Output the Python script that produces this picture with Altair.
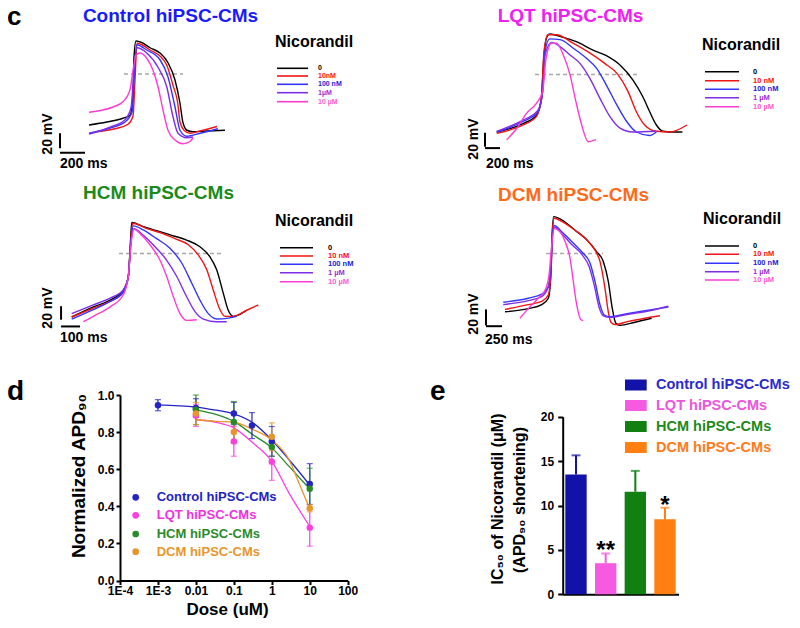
import altair as alt
import pandas as pd

FONT = "Liberation Sans"
W, H = 784, 612
M = 8  # page margin, positions below are read in page pixels

# ---------------- panel c: action potential traces (time ms, membrane potential mV)
CONCS = ["0", "10 nM", "100 nM", "1 µM", "10 µM"]
TRACE_COLORS = ["#000000", "#f01414", "#3434ff", "#7d2ee8", "#ff3ccf"]
LABEL_COLORS = ["#000000", "#ff1010", "#1c1cd8", "#9a2fd6", "#ff5bd0"]

CTRL = {
    "0": ([0, 142, 272, 328, 352, 360, 376, 422, 488, 568, 632, 688, 728, 752, 784, 832, 944, 1088],
          [-75, -71, -66, -62, -38, 16, 37, 35, 28, 21, 8, -15, -46, -72, -82, -84, -83, -82]),
    "10 nM": ([64, 208, 312, 352, 368, 384, 424, 488, 568, 624, 672, 710, 728, 760, 808, 888, 1024],
              [-84, -80, -74, -63, -15, 34, 32, 25, 17, 4, -22, -46, -71, -82, -86, -83, -77]),
    "100 nM": ([0, 168, 288, 344, 360, 382, 462, 568, 632, 688, 728, 782, 888, 1032],
               [-86, -79, -71, -58, -15, 32, 25, 12, -11, -51, -82, -90, -86, -80]),
    "1 µM": ([0, 168, 288, 336, 360, 382, 462, 552, 622, 672, 712, 782, 832],
             [-87, -78, -68, -52, -2, 28, 21, 2, -24, -64, -86, -92, -91]),
    "10 µM": ([0, 192, 272, 328, 352, 376, 408, 462, 512, 552, 592, 632, 688, 752, 808, 832],
              [-58, -51, -44, -28, -2, 18, 21, 14, -2, -24, -55, -82, -95, -100, -97, -92]),
}
LQT = {
    "0": ([0, 350, 530, 595, 627, 670, 707, 862, 1062, 1284, 1462, 1640, 1817, 1950, 2040, 2129, 2217, 2329, 2476],
          [-80, -68, -56, -32, 25, 56, 60, 56, 49, 37, 29, 16, -6, -30, -51, -70, -79, -80, -80]),
    "10 nM": ([0, 351, 529, 596, 631, 684, 796, 1017, 1240, 1440, 1617, 1750, 1862, 1973, 2129, 2306, 2537],
              [-82, -70, -58, -32, 35, 59, 59, 47, 33, 18, 2, -22, -51, -70, -79, -80, -70]),
    "100 nM": ([0, 351, 551, 613, 644, 707, 844, 1017, 1200, 1333, 1462, 1600, 1733, 1862, 2040, 2129],
               [-80, -65, -51, -22, 35, 53, 52, 40, 25, 11, -13, -41, -65, -80, -85, -80]),
    "1 µM": ([0, 351, 551, 613, 644, 733, 844, 977, 1110, 1240, 1377, 1510, 1640, 1817, 2129],
             [-79, -63, -49, -22, 30, 48, 42, 30, 18, -3, -32, -58, -74, -80, -79]),
    "10 µM": ([133, 267, 400, 529, 613, 657, 733, 796, 888, 977, 1057, 1133, 1221, 1324],
              [-91, -75, -53, -39, -22, 25, 47, 47, 30, 2, -37, -70, -94, -91]),
}
HCM = {
    "0": ([0, 114, 202, 272, 298, 307, 316, 377, 447, 526, 605, 675, 728, 763, 798, 824, 851, 886, 921],
          [-80, -65, -55, -40, -20, 19, 60, 54, 48, 41, 34, 24, 9, -10, -45, -70, -79, -76, -70]),
    "10 nM": ([0, 114, 202, 272, 298, 311, 321, 395, 465, 544, 614, 666, 711, 745, 777, 807, 851, 921, 982],
              [-80, -67, -57, -43, -20, 34, 59, 51, 45, 36, 27, 12, -10, -40, -67, -79, -79, -70, -62]),
    "100 nM": ([0, 114, 202, 272, 298, 311, 324, 377, 447, 517, 579, 632, 675, 719, 763, 816, 868],
               [-83, -69, -57, -43, -20, 29, 55, 49, 36, 22, 0, -30, -55, -75, -83, -82, -79]),
    "1 µM": ([0, 114, 202, 272, 298, 311, 328, 377, 429, 500, 553, 605, 649, 693, 763, 816],
             [-75, -62, -52, -40, -20, 29, 51, 41, 27, 4, -20, -50, -72, -83, -87, -87]),
    "10 µM": ([61, 114, 202, 272, 298, 311, 328, 368, 412, 465, 500, 535, 570, 605, 658],
              [-87, -79, -65, -47, -20, 24, 50, 41, 27, 4, -20, -50, -75, -85, -84]),
}
DCM = {
    "0": ([0, 364, 573, 677, 719, 739, 761, 886, 1094, 1277, 1433, 1536, 1614, 1677, 1730, 1797, 2031, 2292],
          [-81, -77, -72, -64, -31, 19, 38, 34, 21, 9, -6, -18, -43, -77, -95, -98, -94, -89]),
    "10 nM": ([0, 364, 573, 677, 719, 739, 770, 886, 1094, 1277, 1406, 1484, 1563, 1614, 1656, 1719, 1927, 2188, 2422],
              [-78, -72, -68, -60, -31, 19, 36, 32, 21, 9, -4, -18, -52, -81, -94, -97, -93, -89, -86]),
    "100 nM": ([-27, 364, 573, 677, 719, 739, 770, 886, 1042, 1198, 1328, 1406, 1484, 1552, 1641, 1927, 2239, 2552],
               [-69, -64, -59, -50, -22, 15, 27, 19, 7, -6, -20, -43, -72, -85, -87, -83, -79, -75]),
    "1 µM": ([-27, 364, 573, 667, 719, 739, 770, 886, 1042, 1198, 1317, 1395, 1469, 1536, 1641, 1927, 2239, 2552],
             [-72, -67, -62, -52, -22, 13, 25, 17, 3, -9, -25, -48, -75, -86, -88, -84, -80, -74]),
    "10 µM": ([234, 364, 520, 625, 688, 730, 770, 859, 938, 1016, 1067, 1120, 1188, 1223],
              [-89, -77, -64, -54, -35, 2, 23, 19, 7, -14, -43, -72, -91, -92]),
}
# APD90 reference (dashed) lines: t start, t end, mV
CTRL_DASH = (280, 752, -7)
LQT_DASH = (511, 1884, 2)
HCM_DASH = (249, 791, 14)
DCM_DASH = (641, 1531, -8)
# scale bars: vertical (t, mV from, mV to), horizontal (mV, t from, t to)
CTRL_BARS = ((-232, -106, -86), (-112, -232, -32))
LQT_BARS = ((-156, -101, -81), (-103, -156, 44))
HCM_BARS = ((-56, -84, -64), (-94, -56, 44))
DCM_BARS = ((-297, -98, -78), (-99, -297, -47))

# ---------------- panel d: dose response
GROUPS = ["Control hiPSC-CMs", "LQT hiPSC-CMs", "HCM hiPSC-CMs", "DCM hiPSC-CMs"]
D_COLORS = ["#2424c4", "#ff3ee0", "#2a8a2a", "#e8952c"]
D_TEXT_COLORS = ["#2323c0", "#ee33dd", "#2a8a2a", "#e8952c"]
DOSE = {
    "Control hiPSC-CMs": [0.001, 0.01, 0.1, 0.3, 1, 10],
    "LQT hiPSC-CMs": [0.01, 0.1, 1, 10],
    "HCM hiPSC-CMs": [0.01, 0.1, 1, 10],
    "DCM hiPSC-CMs": [0.01, 0.1, 1, 10],
}
APD_MEAN = {
    "Control hiPSC-CMs": [0.945, 0.93, 0.90, 0.835, 0.75, 0.52],
    "LQT hiPSC-CMs": [0.89, 0.75, 0.64, 0.285],
    "HCM hiPSC-CMs": [0.92, 0.855, 0.72, 0.495],
    "DCM hiPSC-CMs": [0.90, 0.80, 0.775, 0.39],
}
APD_ERR = {
    "Control hiPSC-CMs": [0.03, 0.05, 0.06, 0.07, 0.08, 0.11],
    "LQT hiPSC-CMs": [0.06, 0.08, 0.10, 0.10],
    "HCM hiPSC-CMs": [0.08, 0.11, 0.05, 0.11],
    "DCM hiPSC-CMs": [0.06, 0.06, 0.075, 0.02],
}
FIT_DOSE = {
    "Control hiPSC-CMs": [0.001, 0.01, 0.034, 0.1, 0.316, 1, 2.85, 10],
    "LQT hiPSC-CMs": [0.01, 0.034, 0.1, 0.316, 1, 2.85, 10],
    "HCM hiPSC-CMs": [0.01, 0.034, 0.1, 0.316, 1, 2.85, 10],
    "DCM hiPSC-CMs": [0.01, 0.034, 0.1, 0.316, 1, 2.85, 5.2, 10],
}
FIT_VAL = {
    "Control hiPSC-CMs": [0.947, 0.935, 0.918, 0.898, 0.85, 0.757, 0.651, 0.515],
    "LQT hiPSC-CMs": [0.868, 0.853, 0.823, 0.742, 0.642, 0.471, 0.291],
    "HCM hiPSC-CMs": [0.92, 0.895, 0.858, 0.786, 0.715, 0.615, 0.493],
    "DCM hiPSC-CMs": [0.868, 0.858, 0.853, 0.814, 0.757, 0.651, 0.525, 0.385],
}
DOSE_TICKS = [1e-4, 1e-3, 0.01, 0.1, 1, 10, 100]
DOSE_TICK_LABELS = ["1E-4", "1E-3", "0.01", "0.1", "1", "10", "100"]
APD_TICKS = [0.0, 0.2, 0.4, 0.6, 0.8, 1.0]

# ---------------- panel e: IC50
E_COLORS = ["#1212a8", "#f55ae0", "#118011", "#ff7f10"]
E_TEXT_COLORS = ["#2a2acf", "#ee55dd", "#1d8a1d", "#ff7a1a"]
IC50 = [13.5, 3.5, 11.55, 8.45]
IC50_ERR = [2.15, 1.1, 2.35, 1.3]
STARS = ["", "**", "", "*"]
IC50_TICKS = [0, 5, 10, 15, 20]

AX = dict(domainColor="black", domainWidth=2, tickColor="black", tickWidth=2, tickSize=4,
          labelColor="black", labelFont=FONT, labelFontSize=12, labelFontWeight="bold",
          grid=False, title=None)


def txt(s, x, y, size, color="#000000", align="left", baseline="middle", angle=0):
    return alt.Chart(pd.DataFrame({"s": [s]})).mark_text(
        align=align, baseline=baseline, font=FONT, fontSize=size, fontWeight="bold",
        color=color, angle=angle).encode(x=alt.value(x - M), y=alt.value(y - M), text="s:N")


def seg(x1, x2, y, color, width=1.6):
    return alt.Chart(pd.DataFrame({"k": [0]})).mark_rule(color=color, strokeWidth=width).encode(
        x=alt.value(x1 - M), x2=alt.value(x2 - M), y=alt.value(y - M))


def dot(x, y, color):
    return alt.Chart(pd.DataFrame({"k": [0]})).mark_circle(color=color, size=45, opacity=1).encode(
        x=alt.value(x - M), y=alt.value(y - M))


def box(x1, x2, y1, y2, color):
    return alt.Chart(pd.DataFrame({"k": [0]})).mark_rect(color=color).encode(
        x=alt.value(x1 - M), x2=alt.value(x2 - M), y=alt.value(y1 - M), y2=alt.value(y2 - M))


def trace_panel(traces, xdom, xrng, ydom, yrng, dash, bars):
    rows = []
    for k, (ts, vs) in traces.items():
        for i, (t, v) in enumerate(zip(ts, vs)):
            rows.append({"t": t, "v": v, "conc": k, "i": i})
    df = pd.DataFrame(rows)
    xs = alt.Scale(domain=xdom, range=xrng, zero=False, nice=False)
    ys = alt.Scale(domain=ydom, range=yrng, zero=False, nice=False)
    cs = alt.Scale(domain=CONCS, range=TRACE_COLORS)
    X = lambda f: alt.X(f, scale=xs, axis=None)
    Y = lambda f: alt.Y(f, scale=ys, axis=None)
    lines = alt.Chart(df).mark_line(strokeWidth=1.4, interpolate="monotone").encode(
        x=X("t:Q"), y=Y("v:Q"), color=alt.Color("conc:N", scale=cs, legend=None),
        detail="conc:N", order="i:Q")
    dd = pd.DataFrame({"t1": [dash[0]], "t2": [dash[1]], "v": [dash[2]]})
    dashes = alt.Chart(dd).mark_rule(color="#a8a8a8", strokeDash=[4, 3], strokeWidth=1.5).encode(
        x=X("t1:Q"), x2="t2:Q", y=Y("v:Q"))
    (vt, v1, v2), (hv, h1, h2) = bars
    vb = alt.Chart(pd.DataFrame({"t": [vt], "v1": [v1], "v2": [v2]})).mark_rule(
        color="black", strokeWidth=2).encode(x=X("t:Q"), y=Y("v1:Q"), y2="v2:Q")
    hb = alt.Chart(pd.DataFrame({"v": [hv], "t1": [h1], "t2": [h2]})).mark_rule(
        color="black", strokeWidth=2).encode(x=X("t1:Q"), x2="t2:Q", y=Y("v:Q"))
    return alt.layer(dashes, lines, vb, hb)


def trace_legend(x_title, y_title, x1, x2, ys, xl, labels, size):
    parts = [txt("Nicorandil", x_title, y_title, 16, baseline="alphabetic")]
    for i, y in enumerate(ys):
        parts.append(seg(x1, x2, y, TRACE_COLORS[i]))
        parts.append(txt(labels[i], xl, y, size, LABEL_COLORS[i]))
    return parts


panel_ctrl = trace_panel(CTRL, [0, 1000], [81, 206], [-75, 25], [117, 42], CTRL_DASH, CTRL_BARS)
panel_lqt = trace_panel(LQT, [0, 2000], [488.7, 638.7], [-80, 20], [124, 54], LQT_DASH, LQT_BARS)
panel_hcm = trace_panel(HCM, [0, 1000], [63.7, 253.7], [-80, 20], [309, 241.5], HCM_DASH, HCM_BARS)
panel_dcm = trace_panel(DCM, [0, 1000], [497, 561], [-80, 20], [303, 223], DCM_DASH, DCM_BARS)

# ---------------- panel d build
D_BOTTOM, D_TOP, D_LEFT, D_RIGHT = 572.5, 387, 112, 339.7
dxs = alt.Scale(type="log", domain=[1e-4, 100], range=[D_LEFT, D_RIGHT], nice=False)
dys = alt.Scale(domain=[0, 1], range=[D_BOTTOM, D_TOP], nice=False, zero=False)
dcs = alt.Scale(domain=GROUPS, range=D_COLORS)
label_arr = "[" + ",".join("'%s'" % s for s in DOSE_TICK_LABELS) + "]"
dxaxis = alt.Axis(orient="bottom", offset=-(H - D_BOTTOM), values=DOSE_TICKS,
                  labelExpr=label_arr + "[round(log(datum.value)/LN10)+4]",
                  labelFlush=False, labelOverlap=False, labelPadding=1, **AX)
dyaxis = alt.Axis(orient="left", offset=-D_LEFT, values=APD_TICKS, format=".1f",
                  labelPadding=2, **AX)

fit_rows, pt_rows = [], []
for g in GROUPS:
    for i, (x, v) in enumerate(zip(FIT_DOSE[g], FIT_VAL[g])):
        fit_rows.append({"dose": x, "val": v, "grp": g, "i": i})
    for x, m, e in zip(DOSE[g], APD_MEAN[g], APD_ERR[g]):
        pt_rows.append({"dose": x, "mean": m, "lo": m - e, "hi": m + e, "grp": g})
fit_df, pt_df = pd.DataFrame(fit_rows), pd.DataFrame(pt_rows)
dcol = alt.Color("grp:N", scale=dcs, legend=None)
fits = alt.Chart(fit_df).mark_line(strokeWidth=1.3, interpolate="monotone").encode(
    x=alt.X("dose:Q", scale=dxs, axis=dxaxis), y=alt.Y("val:Q", scale=dys, axis=dyaxis),
    color=dcol, detail="grp:N", order="i:Q")
ebars = alt.Chart(pt_df).mark_rule(strokeWidth=1.2).encode(
    x=alt.X("dose:Q", scale=dxs, axis=dxaxis), y=alt.Y("lo:Q", scale=dys, axis=dyaxis), y2="hi:Q",
    color=dcol)
cap_lo = alt.Chart(pt_df).mark_tick(orient="horizontal", size=6, thickness=1.2).encode(
    x=alt.X("dose:Q", scale=dxs, axis=dxaxis), y=alt.Y("lo:Q", scale=dys, axis=dyaxis), color=dcol)
cap_hi = alt.Chart(pt_df).mark_tick(orient="horizontal", size=6, thickness=1.2).encode(
    x=alt.X("dose:Q", scale=dxs, axis=dxaxis), y=alt.Y("hi:Q", scale=dys, axis=dyaxis), color=dcol)
pts = alt.Chart(pt_df).mark_circle(size=42, opacity=1).encode(
    x=alt.X("dose:Q", scale=dxs, axis=dxaxis), y=alt.Y("mean:Q", scale=dys, axis=dyaxis), color=dcol)
panel_d = alt.layer(fits, ebars, cap_lo, cap_hi, pts)

# ---------------- panel e build
E_BOTTOM, E_TOP, E_LEFT = 586.3, 408.7, 554.7
exs = alt.Scale(domain=GROUPS, range=[554.5, 670.5], paddingInner=0.28, paddingOuter=0.095)
eys = alt.Scale(domain=[0, 20], range=[E_BOTTOM, E_TOP], nice=False, zero=False)
ecs = alt.Scale(domain=GROUPS, range=E_COLORS)
exaxis = alt.Axis(orient="bottom", offset=-(H - E_BOTTOM), labels=False, ticks=False, **AX)
eyaxis = alt.Axis(orient="left", offset=-E_LEFT, values=IC50_TICKS, labelPadding=4,
                  **{**AX, "tickSize": 5})
e_df = pd.DataFrame({"grp": GROUPS, "ic": IC50, "top": [a + b for a, b in zip(IC50, IC50_ERR)],
                     "star": STARS})
EX = alt.X("grp:N", scale=exs, axis=exaxis, sort=GROUPS)
ecol = alt.Color("grp:N", scale=ecs, legend=None)
ebar = alt.Chart(e_df).mark_bar().encode(x=EX, y=alt.Y("ic:Q", scale=eys, axis=eyaxis), color=ecol)
eerr = alt.Chart(e_df).mark_rule(strokeWidth=2).encode(
    x=EX, y=alt.Y("ic:Q", scale=eys, axis=eyaxis), y2="top:Q", color=ecol)
ecap = alt.Chart(e_df).mark_tick(orient="horizontal", size=9, thickness=2).encode(
    x=EX, y=alt.Y("top:Q", scale=eys, axis=eyaxis), color=ecol)
estar = alt.Chart(e_df).mark_text(font=FONT, fontSize=24, fontWeight="bold", color="black",
                                  baseline="alphabetic", dy=5).encode(
    x=EX, y=alt.Y("top:Q", scale=eys, axis=eyaxis), text="star:N")
panel_e = alt.layer(ebar, eerr, ecap, estar)

# ---------------- annotations
ann = [
    txt("c", 7, 25, 26, baseline="alphabetic"),
    txt("d", 7, 400, 28, baseline="alphabetic"),
    txt("e", 430, 400, 28, baseline="alphabetic"),
    txt("Control hiPSC-CMs", 170.5, 22, 19, "#1a1aff", align="center", baseline="alphabetic"),
    txt("LQT hiPSC-CMs", 570.5, 21.5, 19, "#f020f0", align="center", baseline="alphabetic"),
    txt("HCM hiPSC-CMs", 158.5, 199, 19, "#1a8a1a", align="center", baseline="alphabetic"),
    txt("DCM hiPSC-CMs", 573.5, 201, 19, "#ff6a1a", align="center", baseline="alphabetic"),
    # scale bar labels
    txt("20 mV", 48, 134, 14, align="center", angle=270),
    txt("200 ms", 60, 164, 14),
    txt("20 mV", 474, 139, 14, align="center", angle=270),
    txt("200 ms", 486, 164, 14),
    txt("20 mV", 48, 308, 14, align="center", angle=270),
    txt("100 ms", 60, 338, 14),
    txt("20 mV", 474, 314, 14, align="center", angle=270),
    txt("250 ms", 485, 340, 14),
]
ann += trace_legend(275, 46.5, 277, 308, [68.3, 76, 84.3, 92.7, 101.7], 318,
                    ["0", "10nM", "100 nM", "1µM", "10 µM"], 7)
ann += trace_legend(702, 50, 705, 739, [71.7, 80.7, 89.3, 97.7, 106.7], 753,
                    ["0", "10 nM", "100 nM", "1 µM", "10 µM"], 7.5)
ann += trace_legend(275, 226, 280, 313, [247.7, 256, 264.3, 272.7, 281.7], 328,
                    ["0", "10 nM", "100 nM", "1 µM", "10 µM"], 7.5)
ann += trace_legend(703, 224, 705, 739, [246, 254.3, 263.3, 271.7, 280], 753,
                    ["0", "10 nM", "100 nM", "1 µM", "10 µM"], 7.5)
# panel d titles and legend
ann += [txt("Normalized APD₉₀", 79, 476, 19, align="center", angle=270),
        txt("Dose (uM)", 227.5, 610, 17, align="center")]
for i, y in enumerate([497.3, 515.3, 534, 551.7]):
    ann += [dot(135.7, y, D_COLORS[i]), txt(GROUPS[i], 156.7, y, 13, D_TEXT_COLORS[i])]
# panel e titles and legend
ann += [txt("IC₅₀ of Nicorandil (μM)", 498, 499, 16, align="center", angle=270),
        txt("(APD₉₀ shortening)", 520, 500, 16, align="center", angle=270)]
for i, y in enumerate([385, 405.5, 426.5, 447.5]):
    ann += [box(625, 646.7, y - 5.5, y + 5.5, E_COLORS[i]), txt(GROUPS[i], 656, y, 14.5, E_TEXT_COLORS[i])]

chart = alt.layer(panel_ctrl, panel_lqt, panel_hcm, panel_dcm, panel_d, panel_e, *ann).resolve_scale(
    x="independent", y="independent", color="independent"
).properties(
    width=W, height=H, padding=0, autosize=alt.AutoSizeParams(type="none"), background="white"
).configure_view(stroke=None)

chart.save("out.html", embed_options={"renderer": "svg", "actions": False})
